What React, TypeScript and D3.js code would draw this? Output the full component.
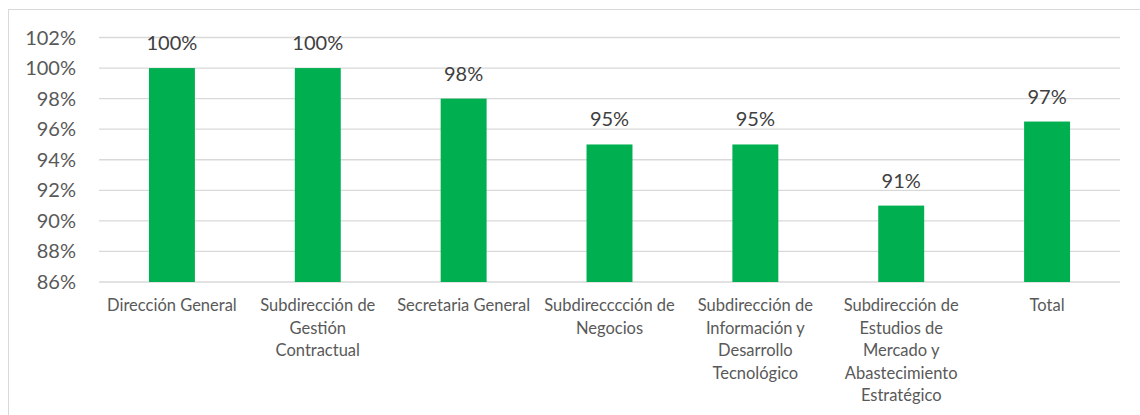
import React from 'react';
import * as d3 from 'd3';

// Category labels, already broken into lines as in the original
const categories = [
  ['Dirección General'],
  ['Subdirección de', 'Gestión', 'Contractual'],
  ['Secretaria General'],
  ['Subdirecccción de', 'Negocios'],
  ['Subdirección de', 'Información y', 'Desarrollo', 'Tecnológico'],
  ['Subdirección de', 'Estudios de', 'Mercado y', 'Abastecimiento', 'Estratégico'],
  ['Total'],
];
const values = [100, 100, 98, 95, 95, 91, 96.5];
const yTicks = [86, 88, 90, 92, 94, 96, 98, 100, 102];

const WIDTH = 1140;
const HEIGHT = 415;
const margin = { top: 37.5, right: 20, bottom: 133, left: 99 };
const FONT = 'Lato, "Open Sans", sans-serif';
const TEXT = '#595959';

const App = () => {
  const innerW = WIDTH - margin.left - margin.right;
  const innerH = HEIGHT - margin.top - margin.bottom;

  const x = d3.scaleBand<number>()
    .domain(d3.range(values.length))
    .range([0, innerW])
    .paddingInner(0.685)
    .paddingOuter(0.3425);

  const y = d3.scaleLinear().domain([86, 102]).range([innerH, 0]);

  return (
    <svg
      width={WIDTH}
      height={HEIGHT}
      style={{ position: 'absolute', left: 0, top: 0, background: '#fff' }}
    >
      {/* chart border, cropped on the right and bottom */}
      <rect x={8.5} y={9.5} width={WIDTH} height={HEIGHT} fill="#fff" stroke="#d9d9d9" />
      <g transform={`translate(${margin.left},${margin.top})`}>
        {/* gridlines + y labels */}
        {yTicks.map(t => (
          <g key={t} transform={`translate(0,${y(t)})`}>
            <line x1={0} x2={innerW} stroke="#d9d9d9" strokeWidth={1.3} />
            <text
              x={-23}
              dy="0.35em"
              textAnchor="end"
              fontFamily={FONT}
              fontSize={20}
              fill={TEXT}
            >
              {t}%
            </text>
          </g>
        ))}

        {/* bars */}
        {values.map((v, i) => (
          <rect
            key={i}
            x={x(i)}
            y={y(v)}
            width={x.bandwidth()}
            height={innerH - y(v)}
            fill="#00b050"
          />
        ))}

        {/* data labels */}
        {values.map((v, i) => (
          <text
            key={i}
            x={(x(i) ?? 0) + x.bandwidth() / 2}
            y={y(v) - 18}
            textAnchor="middle"
            fontFamily={FONT}
            fontSize={20}
            fill="#404040"
          >
            {Math.round(v)}%
          </text>
        ))}

        {/* category labels */}
        {categories.map((lines, i) => (
          <text
            key={i}
            x={(x(i) ?? 0) + x.bandwidth() / 2}
            y={innerH + 29}
            textAnchor="middle"
            fontFamily={FONT}
            fontSize={16.5}
            fill={TEXT}
          >
            {lines.map((l, j) => (
              <tspan key={j} x={(x(i) ?? 0) + x.bandwidth() / 2} dy={j === 0 ? 0 : 22.5}>
                {l}
              </tspan>
            ))}
          </text>
        ))}
      </g>
    </svg>
  );
};

export default App;
